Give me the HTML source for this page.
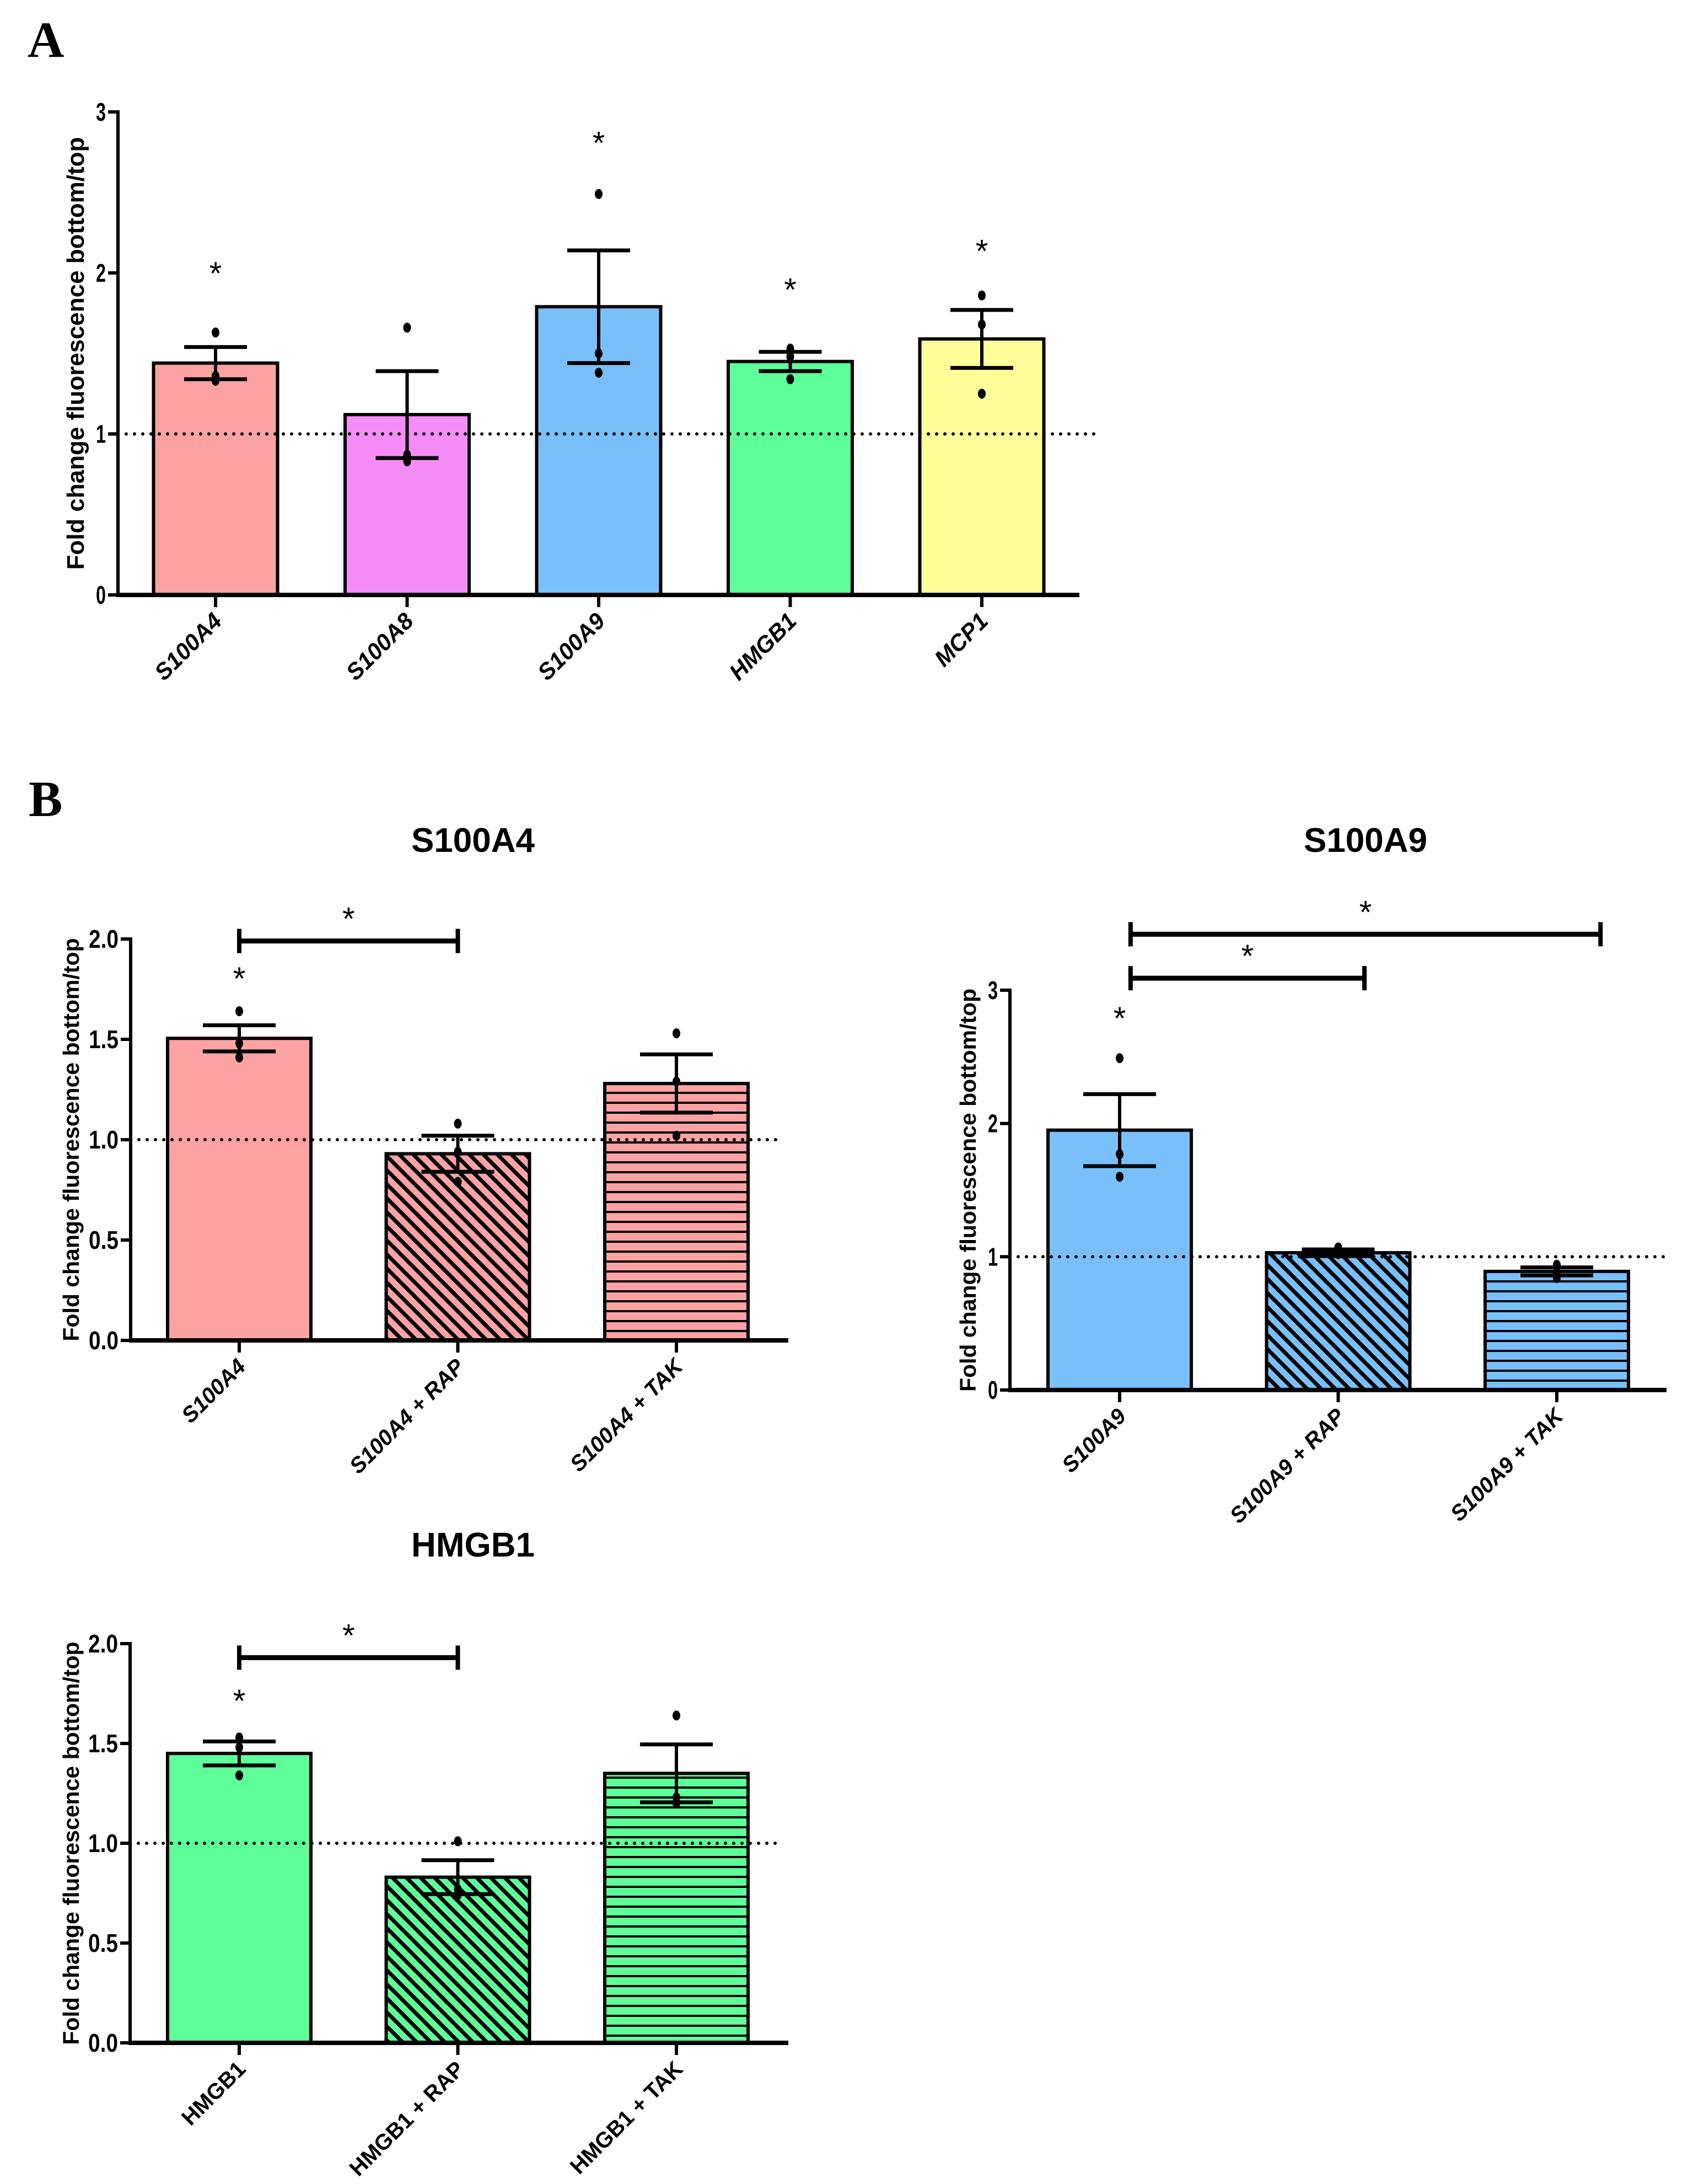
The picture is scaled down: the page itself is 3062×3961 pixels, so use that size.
<!DOCTYPE html>
<html><head><meta charset="utf-8">
<style>
html,body{margin:0;padding:0;background:#fff;}
svg{display:block;}
text{font-family:"Liberation Sans",Arial,sans-serif;}
</style></head>
<body>
<svg id="fig" width="3062" height="3961" viewBox="0 0 3062 3961" xmlns="http://www.w3.org/2000/svg">
<defs>
<pattern id="diagPink" patternUnits="userSpaceOnUse" width="18" height="18" patternTransform="rotate(-45)"><rect width="18" height="18" fill="#FCA2A2"/><rect x="0" y="0" width="7" height="18" fill="#000"/></pattern>
<pattern id="horzPink" patternUnits="userSpaceOnUse" width="18" height="18"><rect width="18" height="18" fill="#FCA2A2"/><rect x="0" y="0" width="18" height="4" fill="#000"/></pattern>
<pattern id="diagBlue" patternUnits="userSpaceOnUse" width="18" height="18" patternTransform="rotate(-45)"><rect width="18" height="18" fill="#79BFFA"/><rect x="0" y="0" width="7" height="18" fill="#000"/></pattern>
<pattern id="horzBlue" patternUnits="userSpaceOnUse" width="18" height="18"><rect width="18" height="18" fill="#79BFFA"/><rect x="0" y="0" width="18" height="4" fill="#000"/></pattern>
<pattern id="diagGreen" patternUnits="userSpaceOnUse" width="18" height="18" patternTransform="rotate(-45)"><rect width="18" height="18" fill="#5EFF99"/><rect x="0" y="0" width="7" height="18" fill="#000"/></pattern>
<pattern id="horzGreen" patternUnits="userSpaceOnUse" width="18" height="18"><rect width="18" height="18" fill="#5EFF99"/><rect x="0" y="0" width="18" height="4" fill="#000"/></pattern>
</defs>
<text x="50" y="103" font-weight="bold" font-size="92" style="font-family:'Liberation Serif',serif">A</text>
<text x="52" y="1480" font-weight="bold" font-size="92" style="font-family:'Liberation Serif',serif">B</text>
</svg>
<script>
// Panel A data
const catsA = ["S100A4","S100A8","S100A9","HMGB1","MCP1"];
const meanA = [1.44,1.12,1.79,1.45,1.59];
const semA = [0.10,0.27,0.35,0.06,0.18];
const ptsA = [[1.63,1.36,1.33],[1.66,0.83,0.87],[2.49,1.50,1.38],[1.53,1.48,1.34],[1.86,1.68,1.25]];
const starA = [2.03,null,2.84,1.93,2.17];
const ticksA = [0,1,2,3];
const tickLabA = ["0","1","2","3"];
// Panel B S100A4
const catsB1 = ["S100A4","S100A4 + RAP","S100A4 + TAK"];
const meanB1 = [1.505,0.93,1.28];
const semB1 = [0.065,0.09,0.145];
const ptsB1 = [[1.64,1.48,1.41],[1.08,0.94,0.79],[1.53,1.29,1.02]];
const starB1 = [1.83,null,null];
const ticksB1 = [0,0.5,1,1.5,2];
const tickLabB1 = ["0.0","0.5","1.0","1.5","2.0"];
const bracketsB1 = [[0,1,1.99]];
// Panel B S100A9
const catsB2 = ["S100A9","S100A9 + RAP","S100A9 + TAK"];
const meanB2 = [1.95,1.03,0.89];
const semB2 = [0.27,0.025,0.03];
const ptsB2 = [[2.49,1.77,1.60],[1.07,1.03,1.02],[0.94,0.88,0.84]];
const starB2 = [2.83,null,null];
const ticksB2 = [0,1,2,3];
const tickLabB2 = ["0","1","2","3"];
const bracketsB2 = [[0.05,2.2,3.42],[0.05,1.12,3.09]];
// Panel B HMGB1
const catsB3 = ["HMGB1","HMGB1 + RAP","HMGB1 + TAK"];
const meanB3 = [1.45,0.83,1.35];
const semB3 = [0.06,0.085,0.145];
const ptsB3 = [[1.53,1.48,1.34],[1.01,0.77,0.74],[1.64,1.23,1.20]];
const starB3 = [1.74,null,null];
const ticksB3 = [0,0.5,1,1.5,2];
const tickLabB3 = ["0.0","0.5","1.0","1.5","2.0"];
const bracketsB3 = [[0,1,1.93]];

const svg = document.getElementById('fig');
const NS = "http://www.w3.org/2000/svg";
function mk(tag, attrs, parent){
  const e = document.createElementNS(NS, tag);
  for (const k in attrs) e.setAttribute(k, attrs[k]);
  (parent||svg).appendChild(e);
  return e;
}

function chart(o){
  const g = mk('g', {});
  
  
  const y = v => o.y0 - v*o.unit;
  const x = i => o.x0c + i*o.step;
  const bw = o.bw;
  o.cats.forEach((c,i)=>{
    const r = mk('rect', {x:x(i)-bw/2, y:y(o.mean[i]), width:bw, height:o.y0-y(o.mean[i]), fill:o.fills[i], stroke:'#000','stroke-width':6}, g);
    
    
  });
  const dl = mk('line', {x1:o.ax, x2:o.dotEnd, y1:y(1), y2:y(1), stroke:'#000','stroke-width':6,'stroke-dasharray':'0 15','stroke-linecap':'round'}, g);
  
  
  o.cats.forEach((c,i)=>{
    const eb = mk('g', {}, g);
    
    
    const hi = y(o.mean[i]+o.sem[i]), lo = y(o.mean[i]-o.sem[i]);
    mk('line', {x1:x(i),x2:x(i),y1:hi,y2:lo,stroke:'#000','stroke-width':6}, eb);
    mk('line', {x1:x(i)-o.cap,x2:x(i)+o.cap,y1:hi,y2:hi,stroke:'#000','stroke-width':7}, eb);
    mk('line', {x1:x(i)-o.cap,x2:x(i)+o.cap,y1:lo,y2:lo,stroke:'#000','stroke-width':7}, eb);
    o.pts[i].forEach(p=>{
      const d = mk('ellipse', {cx:x(i), cy:y(p), rx:7, ry:9, fill:'#000'}, g);
      
      
    });
    if (o.star[i] !== null){
      const s = mk('text', {x:x(i), y:y(o.star[i])+30, 'text-anchor':'middle','font-size':58}, g);
      s.textContent = '*';
      
      
    }
    mk('line', {x1:x(i),x2:x(i),y1:o.y0,y2:o.y0+22,stroke:'#000','stroke-width':6}, g);
    const lx = x(i)+14, ly = o.y0+50;
    const t = mk('text', {x:lx, y:ly, 'text-anchor':'end','font-size':o.xfs,'font-weight':'bold','font-style':o.italic?'italic':'normal', transform:`rotate(-45 ${lx} ${ly})`}, g);
    t.textContent = c;
    
    
  });
  (o.brackets||[]).forEach(b=>{
    const bg = mk('g', {}, g);
    
    
    const by = y(b[2]), xa = x(b[0]), xb = x(b[1]);
    mk('line', {x1:xa,x2:xb,y1:by,y2:by,stroke:'#000','stroke-width':9}, bg);
    mk('line', {x1:xa,x2:xa,y1:by-22,y2:by+22,stroke:'#000','stroke-width':8}, bg);
    mk('line', {x1:xb,x2:xb,y1:by-22,y2:by+22,stroke:'#000','stroke-width':8}, bg);
    const s = mk('text', {x:(xa+xb)/2, y:by-20, 'text-anchor':'middle','font-size':58}, bg);
    s.textContent = '*';
  });
  const ya = mk('line', {x1:o.ax,x2:o.ax,y1:y(o.ticks[o.ticks.length-1])-3,y2:o.y0+3,stroke:'#000','stroke-width':6}, g);
  
  
  const xa = mk('line', {x1:o.ax-3,x2:o.axEnd,y1:o.y0,y2:o.y0,stroke:'#000','stroke-width':8}, g);
  
  
  o.ticks.forEach((v,k)=>{
    mk('line', {x1:o.ax-18,x2:o.ax,y1:y(v),y2:y(v),stroke:'#000','stroke-width':6}, g);
    const t = mk('text', {x:o.ax-22, y:y(v)+16, 'text-anchor':'end','font-size':46,'font-weight':'bold', textLength: o.tickLab[k].length*18, lengthAdjust:'spacingAndGlyphs'}, g);
    t.textContent = o.tickLab[k];
    
    
  });
  const midY = (y(o.ticks[o.ticks.length-1]) + o.y0)/2;
  const yt = mk('text', {x:o.ytx, y:midY, 'text-anchor':'middle','font-size':o.ytfs,'font-weight':'bold', transform:`rotate(-90 ${o.ytx} ${midY})`}, g);
  yt.textContent = 'Fold change fluorescence bottom/top';
  
  
  if (o.title){
    const tt = mk('text', {x:o.titleX, y:o.titleY, 'text-anchor':'middle','font-size':62,'font-weight':'bold'}, g);
    tt.textContent = o.title;
    
    
  }
}

chart({name:'chart-panel-a', cats:catsA, mean:meanA, sem:semA, pts:ptsA, star:starA, ticks:ticksA, tickLab:tickLabA,
  y0:1079, unit:292, x0c:391, step:347.5, bw:225, cap:57, ax:214, axEnd:1958, dotEnd:1995, italic:true, xfs:42,
  fills:['#FCA2A2','#F58DF8','#79BFFA','#5EFF99','#FFFF99'], ytx:152, ytfs:44});

chart({name:'chart-s100a4', cats:catsB1, mean:meanB1, sem:semB1, pts:ptsB1, star:starB1, ticks:ticksB1, tickLab:tickLabB1, brackets:bracketsB1,
  y0:2431, unit:364, x0c:434, step:396.5, bw:260, cap:66, ax:237, axEnd:1430, dotEnd:1412, italic:true, xfs:40,
  fills:['#FCA2A2','url(#diagPink)','url(#horzPink)'], ytx:143, ytfs:41, title:'S100A4', titleX:858, titleY:1545});

chart({name:'chart-s100a9', cats:catsB2, mean:meanB2, sem:semB2, pts:ptsB2, star:starB2, ticks:ticksB2, tickLab:tickLabB2, brackets:bracketsB2,
  y0:2521, unit:241.7, x0c:2031, step:396.5, bw:260, cap:66, ax:1832, axEnd:3023, dotEnd:3023, italic:true, xfs:40,
  fills:['#79BFFA','url(#diagBlue)','url(#horzBlue)'], ytx:1770, ytfs:41, title:'S100A9', titleX:2477, titleY:1545});

chart({name:'chart-hmgb1', cats:catsB3, mean:meanB3, sem:semB3, pts:ptsB3, star:starB3, ticks:ticksB3, tickLab:tickLabB3, brackets:bracketsB3,
  y0:3705, unit:362, x0c:434, step:396.5, bw:260, cap:66, ax:236, axEnd:1430, dotEnd:1412, italic:false, xfs:40,
  fills:['#5EFF99','url(#diagGreen)','url(#horzGreen)'], ytx:143, ytfs:41, title:'HMGB1', titleX:858, titleY:2823});
</script>
</body></html>
